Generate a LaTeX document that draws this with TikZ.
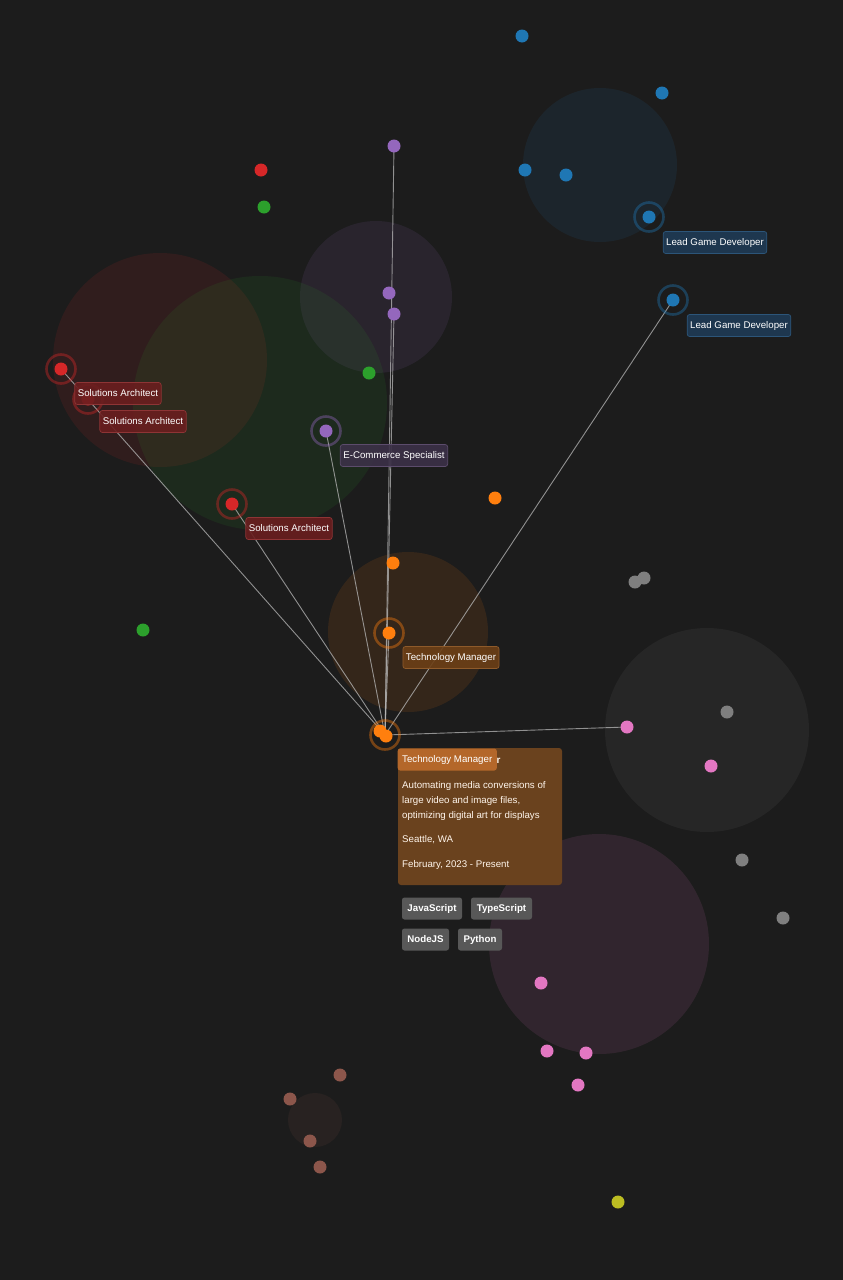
\documentclass[tikz,border=0pt]{standalone}
\usepackage{fontspec}
\setmainfont{Liberation Sans}
\definecolor{bg}{HTML}{1C1C1C}
\definecolor{cblue}{HTML}{1F77B4}
\definecolor{corange}{HTML}{FF7F0E}
\definecolor{cgreen}{HTML}{2CA02C}
\definecolor{cred}{HTML}{D62728}
\definecolor{cpurple}{HTML}{9467BD}
\definecolor{cbrown}{HTML}{8C564B}
\definecolor{cpink}{HTML}{E377C2}
\definecolor{cgray}{HTML}{7F7F7F}
\definecolor{colive}{HTML}{BCBD22}
\definecolor{labblue}{HTML}{1F3A55}
\definecolor{labblueb}{HTML}{2C5579}
\definecolor{labred}{HTML}{6A1E1F}
\definecolor{labredb}{HTML}{8E3435}
\definecolor{labpurple}{HTML}{3C3148}
\definecolor{labpurpleb}{HTML}{5C4C6C}
\definecolor{laborange}{HTML}{6C3F16}
\definecolor{laborangeb}{HTML}{8E5A2A}
\definecolor{tipbg}{HTML}{6A421E}
\definecolor{tiphead}{HTML}{B4672A}
\definecolor{tagbg}{HTML}{585858}
\definecolor{linkc}{HTML}{B8B8B8}
\begin{document}
\begin{tikzpicture}[x=1pt,y=-1pt,
  dot/.style={circle, fill=#1, minimum size=13pt, inner sep=0pt},
  ring/.style={circle, draw=#1, draw opacity=0.4, line width=2.6pt, minimum size=29pt, inner sep=0pt},
  blob/.style={fill=#1, fill opacity=0.11},
  link/.style={draw=linkc, draw opacity=0.75, line width=0.9pt},
  lab/.style n args={2}{rounded corners=2.5pt, fill=#1, fill opacity=0.9, text opacity=1, draw=#2, line width=0.7pt, text=white, font=\fontsize{9.7}{12}\selectfont, inner xsep=3pt, minimum height=22pt},
  tag/.style={rounded corners=2.5pt, fill=tagbg, text=white, font=\fontsize{9.7}{12}\selectfont\bfseries, minimum height=22pt, inner xsep=0pt},
  tiptext/.style={anchor=west, text=white!92!orange, font=\fontsize{9.7}{12}\selectfont, inner sep=0pt}
]
\fill[bg] (0,0) rectangle (843,1280);
\useasboundingbox (0,0) rectangle (843,1280);

% cluster halos
\fill[blob=cblue] (600,165) circle (77);
\fill[blob=cpurple] (376,297) circle (76);
\fill[blob=cred] (160,360) circle (107);
\fill[blob=cgreen] (260,403) circle (127);
\fill[blob=corange] (408,632) circle (80);
\fill[blob=cgray] (707,730) circle (102);
\fill[blob=cpink] (599,944) circle (110);
\fill[blob=cbrown] (315,1120) circle (27);

% dot positions
\coordinate (b1) at (522,36);
\coordinate (b2) at (662,93);
\coordinate (b3) at (525,170);
\coordinate (b4) at (566,175);
\coordinate (b5) at (649,217);
\coordinate (b6) at (673,300);
\coordinate (r1) at (261,170);
\coordinate (r2) at (61,369);
\coordinate (r3) at (88,399);
\coordinate (r4) at (232,504);
\coordinate (g1) at (264,207);
\coordinate (g2) at (369,373);
\coordinate (g3) at (143,630);
\coordinate (p1) at (394,146);
\coordinate (p2) at (389,293);
\coordinate (p3) at (394,314);
\coordinate (p4) at (326,431);
\coordinate (o1) at (495,498);
\coordinate (o2) at (393,563);
\coordinate (o3) at (389,633);
\coordinate (o4) at (380,731);
\coordinate (hubc) at (385,735);
\coordinate (k1) at (627,727);
\coordinate (k2) at (711,766);
\coordinate (k3) at (541,983);
\coordinate (k4) at (547,1051);
\coordinate (k5) at (586,1053);
\coordinate (k6) at (578,1085);

% connectors
\foreach \t in {p1,p3,p4,r2,r4,o3,b6,k1}
  \draw[link] (hubc) -- (\t);

% rings
\node[ring=cblue] (rb5) at (b5) {};
\node[ring=cblue] (rb6) at (b6) {};
\node[ring=cred] (rr2) at (r2) {};
\node[ring=cred] (rr3) at (r3) {};
\node[ring=cred] (rr4) at (r4) {};
\node[ring=cpurple] (rp4) at (p4) {};
\node[ring=corange] (ro3) at (o3) {};
\node[ring=corange] (rhub) at (hubc) {};

% dots
\foreach \n in {b1,b2,b3,b4,b5,b6} \node[dot=cblue] (d\n) at (\n) {};
\foreach \n in {r1,r2,r3,r4} \node[dot=cred] (d\n) at (\n) {};
\foreach \n in {g1,g2,g3} \node[dot=cgreen] (d\n) at (\n) {};
\foreach \n in {p1,p2,p3,p4} \node[dot=cpurple] (d\n) at (\n) {};
\foreach \n in {o1,o2,o3,o4} \node[dot=corange] (d\n) at (\n) {};
\node[dot=corange] (hub) at (386,736) {};
\foreach \n in {k1,k2,k3,k4,k5,k6} \node[dot=cpink] (d\n) at (\n) {};
\node[dot=cgray] (gy1) at (635,582) {};
\node[dot=cgray] (gy2) at (644,578) {};
\node[dot=cgray] (gy3) at (727,712) {};
\node[dot=cgray] (gy4) at (742,860) {};
\node[dot=cgray] (gy5) at (783,918) {};
\node[dot=cbrown] (br1) at (340,1075) {};
\node[dot=cbrown] (br2) at (290,1099) {};
\node[dot=cbrown] (br3) at (310,1141) {};
\node[dot=cbrown] (br4) at (320,1167) {};
\node[dot=colive] (ol1) at (618,1202) {};

% labels
\node[lab={labblue}{labblueb}] (lgd1) at (715,242.5) {Lead Game Developer};
\node[lab={labblue}{labblueb}] (lgd2) at (739,325.5) {Lead Game Developer};
\node[lab={labred}{labredb}] (lsa1) at (118,393.5) {Solutions Architect};
\node[lab={labred}{labredb}] (lsa2) at (143,421.5) {Solutions Architect};
\node[lab={labred}{labredb}] (lsa3) at (289,528.5) {Solutions Architect};
\node[lab={labpurple}{labpurpleb}] (lec) at (394,455.5) {E-Commerce Specialist};
\node[lab={laborange}{laborangeb}] (ltm1) at (451,657.5) {Technology Manager};

% tooltip
\fill[tipbg, rounded corners=3pt] (398,748) rectangle (562,885);
\node[tiptext, font=\fontsize{9.9}{12}\selectfont\bfseries] (ttitle) at (402,761) {Technology Manager};
\node[rounded corners=2.5pt, fill=tiphead, text=white, font=\fontsize{9.7}{12}\selectfont, inner xsep=4.5pt, minimum height=22pt, anchor=west] (ltm2) at (397.5,759.5) {Technology Manager};
\node[tiptext] (td1) at (402,786) {Automating media conversions of};
\node[tiptext] (td2) at (402,801) {large video and image files,};
\node[tiptext] (td3) at (402,816) {optimizing digital art for displays};
\node[tiptext] (tloc) at (402,840) {Seattle, WA};
\node[tiptext] (tdate) at (402,865) {February, 2023 - Present};

% tags
\node[tag, minimum width=60pt] (tjs) at (432,908.5) {JavaScript};
\node[tag, minimum width=61pt] (tts) at (501.5,908.5) {TypeScript};
\node[tag, minimum width=47pt] (tnode) at (425.5,939.5) {NodeJS};
\node[tag, minimum width=44pt] (tpy) at (480,939.5) {Python};
\end{tikzpicture}
\end{document}
